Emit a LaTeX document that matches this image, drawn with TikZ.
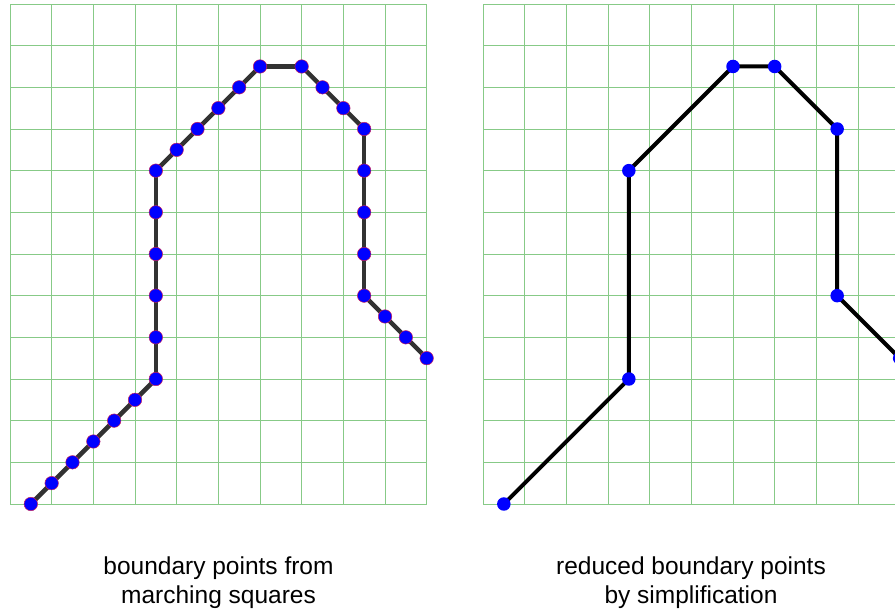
\documentclass[tikz,border=0pt]{standalone}
\usepackage{fontspec}
\setmainfont{Liberation Sans}
\definecolor{gridc}{RGB}{135,202,135}
\definecolor{dotc}{RGB}{0,0,255}
\definecolor{dotrim}{RGB}{200,30,90}
\definecolor{lineL}{RGB}{50,50,50}
\begin{document}
\begin{tikzpicture}[x=1pt,y=1pt,
  gridline/.style={draw=gridc,line width=0.9pt},
  dotL/.style={circle,fill=dotc,draw=dotrim,line width=0.5pt,inner sep=0pt,minimum size=13.5pt},
  dotR/.style={circle,fill=dotc,draw=none,inner sep=0pt,minimum size=13.5pt},
  pathL/.style={draw=lineL,line width=4.5pt},
  pathR/.style={draw=black,line width=4pt},
  caption/.style={font=\fontsize{24.5}{29}\selectfont,align=center,inner sep=0pt}]
\useasboundingbox (0,0) rectangle (895,610);
% left panel
\begin{scope}[shift={(10,106)},x=41.667pt,y=41.667pt]
  \draw[gridline] (0,0) grid[step=1] (10,12);
  \foreach \px/\py [count=\i from 0] in {0.5/0,1/0.5,1.5/1,2/1.5,2.5/2,3/2.5,3.5/3,3.5/4,3.5/5,3.5/6,3.5/7,3.5/8,4/8.5,4.5/9,5/9.5,5.5/10,6/10.5,7/10.5,7.5/10,8/9.5,8.5/9,8.5/8,8.5/7,8.5/6,8.5/5,9/4.5,9.5/4,10/3.5}
    \coordinate (L\i) at (\px,\py);
  \foreach \i [evaluate=\i as \j using int(\i+1)] in {0,...,26}
    \draw[pathL,line cap=round] (L\i) -- (L\j);
  \foreach \i in {0,...,27}
    \node[dotL] (LD\i) at (L\i) {};
\end{scope}
% right panel
\begin{scope}
\clip (483,0) rectangle (895,610);
\begin{scope}[shift={(483,106)},x=41.667pt,y=41.667pt]
  \draw[gridline] (0,0) grid[step=1] (10,12);
  \foreach \px/\py [count=\i from 0] in {0.5/0,3.5/3,3.5/8,6/10.5,7/10.5,8.5/9,8.5/5,10/3.5}
    \coordinate (R\i) at (\px,\py);
  \draw[pathR,line join=round] (R0) -- (R1) -- (R2) -- (R3) -- (R4) -- (R5) -- (R6) -- (R7);
  \foreach \i in {0,...,7}
    \node[dotR] (RD\i) at (R\i) {};
\end{scope}
\end{scope}
% captions
\node[caption] (capL) at (218.5,27.5) {boundary points from\\marching squares};
\node[caption] (capR) at (691,27.5) {reduced boundary points\\by simplification};
\end{tikzpicture}
\end{document}
